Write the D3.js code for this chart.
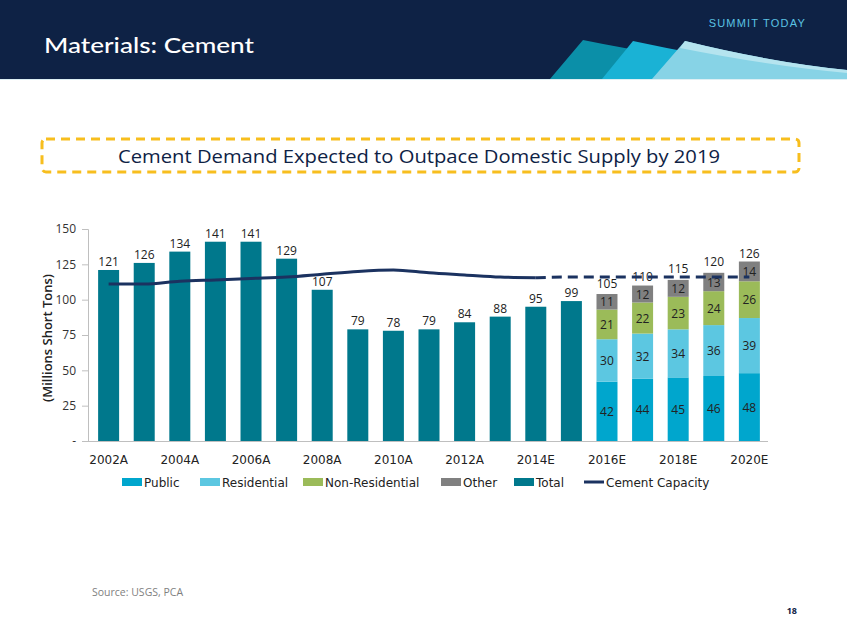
<!DOCTYPE html>
<html><head><meta charset="utf-8">
<script src="https://cdn.jsdelivr.net/npm/d3@7"></script>
<style>
html,body{margin:0;padding:0;background:#fff;}
svg{display:block;font-family:"Open Sans","Noto Sans",sans-serif;}
</style></head>
<body>
<svg id="c" width="847" height="635"></svg>
<script>
const categories = ["2002A","2003A","2004A","2005A","2006A","2007A","2008A","2009A","2010A","2011A","2012A","2013A","2014E","2015E","2016E","2017E","2018E","2019E","2020E"];
const totalValues = [121,126,134,141,141,129,107,79,78,79,84,88,95,99,null,null,null,null,null];
const publicValues = [null,null,null,null,null,null,null,null,null,null,null,null,null,null,42,44,45,46,48];
const residentialValues = [null,null,null,null,null,null,null,null,null,null,null,null,null,null,30,32,34,36,39];
const nonResidentialValues = [null,null,null,null,null,null,null,null,null,null,null,null,null,null,21,22,23,24,26];
const otherValues = [null,null,null,null,null,null,null,null,null,null,null,null,null,null,11,12,12,13,14];
const stackTotalLabels = [null,null,null,null,null,null,null,null,null,null,null,null,null,null,105,110,115,120,126];
const capacityValues = [111,111,113,114,115,116,118,120,121,119,117.5,116,115.5,116,116,116,116,116,116];
const yTicks = [0,25,50,75,100,125,150];
const xTickLabels = ["2002A","2004A","2006A","2008A","2010A","2012A","2014E","2016E","2018E","2020E"];

const colors = {Public:"#00A6CD", Residential:"#5CC7E1", "Non-Residential":"#9BBB59", Other:"#808080", Total:"#00788C", Capacity:"#1B3260"};
const svg = d3.select("#c");
const wideFont = "'DejaVu Sans', Verdana, sans-serif";

// Header
svg.append("rect").attr("x",0).attr("y",0).attr("width",847).attr("height",79).attr("fill","#0E2245");
svg.append("path").attr("d","M550,79 L583,40 Q700,64 847,76 L847,79 Z").attr("fill","#0B8FA8");
svg.append("path").attr("d","M602,79 L633,41 Q740,64 847,76 L847,79 Z").attr("fill","#1AB2D5");
svg.append("path").attr("d","M652,79 L685,41 Q770,62 847,70 L847,79 Z").attr("fill","#87D3E6");
svg.append("path").attr("d","M685,41 Q770,62 847,70 L847,73 Q770,66 680,48 Z").attr("fill","#B5E4EF");
svg.append("rect").attr("x",0).attr("y",79).attr("width",847).attr("height",1).attr("fill","#DDEFF4");
svg.append("text").attr("x",44).attr("y",53).attr("fill","#fff").attr("font-size",22).attr("font-weight",500)
  .attr("textLength",210).attr("lengthAdjust","spacingAndGlyphs")
  .attr("font-family","Lato, 'Open Sans', sans-serif").text("Materials: Cement");
svg.append("text").attr("x",806).attr("y",27).attr("text-anchor","end").attr("fill","#5BC3E3").attr("font-size",11)
  .attr("letter-spacing",1.2).attr("font-family","'Liberation Sans', Arial, sans-serif").text("SUMMIT TODAY");

// Dashed title box
svg.append("rect").attr("x",42).attr("y",139).attr("width",757).attr("height",33).attr("rx",4)
  .attr("fill","none").attr("stroke","#F7BE1E").attr("stroke-width",3).attr("stroke-dasharray","9,6");
svg.append("text").attr("x",419).attr("y",163).attr("text-anchor","middle").attr("fill","#0E2245")
  .attr("font-size",19).attr("font-weight",500).attr("textLength",602).attr("lengthAdjust","spacingAndGlyphs")
  .text("Cement Demand Expected to Outpace Domestic Supply by 2019");

// Scales
const x = d3.scaleBand().domain(categories).range([91,767]).paddingInner(0.41).paddingOuter(0.2);
const y = d3.scaleLinear().domain([0,150]).range([441,229]);

// Axes
const yAxis = d3.axisLeft(y).tickValues(yTicks).tickSize(6).tickPadding(6).tickFormat(d => d===0 ? "-" : d);
const gy = svg.append("g").attr("transform","translate(88,0)").call(yAxis);
gy.select(".domain").attr("stroke","#BFBFBF");
gy.selectAll(".tick line").attr("stroke","#BFBFBF");
gy.selectAll(".tick text").attr("fill","#333").attr("font-size",12).attr("font-family","'Open Sans',sans-serif");

const xAxis = d3.axisBottom(x).tickValues(xTickLabels).tickSize(0).tickPadding(14);
const gx = svg.append("g").attr("transform","translate(0,441)").call(xAxis);
gx.select(".domain").remove();
gx.selectAll(".tick text").attr("fill","#222").attr("font-size",12).attr("font-family",wideFont);
svg.append("line").attr("x1",88).attr("x2",768).attr("y1",441.5).attr("y2",441.5).attr("stroke","#BFBFBF");

// Y axis title
svg.append("text").attr("transform","translate(52,338) rotate(-90)").attr("text-anchor","middle")
  .attr("font-size",13).attr("font-weight",600).attr("fill","#222").text("(Millions Short Tons)");

// Total bars
const totals = categories.map((c,i)=>({c, v: totalValues[i]})).filter(d=>d.v!=null);
svg.append("g").selectAll("rect").data(totals).join("rect")
  .attr("x",d=>x(d.c)).attr("width",x.bandwidth()).attr("y",d=>y(d.v)).attr("height",d=>y(0)-y(d.v))
  .attr("fill",colors.Total);
svg.append("g").selectAll("text").data(totals).join("text")
  .attr("x",d=>x(d.c)+x.bandwidth()/2).attr("y",d=>y(d.v)-4).attr("text-anchor","middle")
  .attr("font-size",12).attr("fill","#222").text(d=>d.v);

// Stacked bars
const keys = ["Public","Residential","Non-Residential","Other"];
const stackRows = categories.map((c,i)=>({c, i, Public:publicValues[i], Residential:residentialValues[i], "Non-Residential":nonResidentialValues[i], Other:otherValues[i]}))
  .filter(d=>d.Public!=null);
const stacked = d3.stack().keys(keys)(stackRows);
const sg = svg.append("g");
stacked.forEach(layer=>{
  const g = sg.append("g");
  g.selectAll("rect").data(layer).join("rect")
    .attr("x",d=>x(d.data.c)).attr("width",x.bandwidth())
    .attr("y",d=>y(d[1])).attr("height",d=>y(d[0])-y(d[1]))
    .attr("fill",colors[layer.key]);
  g.selectAll("text").data(layer).join("text")
    .attr("x",d=>x(d.data.c)+x.bandwidth()/2).attr("y",d=>(y(d[0])+y(d[1]))/2+4.5)
    .attr("text-anchor","middle").attr("font-size",12).attr("fill","#222")
    .text(d=>d[1]-d[0]);
});
svg.append("g").selectAll("text").data(stackRows).join("text")
  .attr("x",d=>x(d.c)+x.bandwidth()/2).attr("y",d=>y(stackTotalLabels[d.i])-5).attr("text-anchor","middle")
  .attr("font-size",12).attr("fill","#222").text(d=>stackTotalLabels[d.i]);

// Capacity line
const cap = categories.map((c,i)=>({c,i,v:capacityValues[i]}));
const line = d3.line().x(d=>x(d.c)+x.bandwidth()/2).y(d=>y(d.v)).curve(d3.curveMonotoneX);
svg.append("path").datum(cap.filter(d=>d.i<=12)).attr("d",line).attr("fill","none")
  .attr("stroke",colors.Capacity).attr("stroke-width",3);
svg.append("path").datum(cap.filter(d=>d.i>=12)).attr("d",line).attr("fill","none")
  .attr("stroke",colors.Capacity).attr("stroke-width",3).attr("stroke-dasharray","10,6");

// Legend
const legendItems = [
  {name:"Public", type:"rect", x:122},
  {name:"Residential", type:"rect", x:200},
  {name:"Non-Residential", type:"rect", x:303},
  {name:"Other", type:"rect", x:441},
  {name:"Total", type:"rect", x:514},
  {name:"Cement Capacity", type:"line", x:584}
];
const lg = svg.append("g");
legendItems.forEach(it=>{
  const col = it.name==="Total" ? colors.Total : it.name==="Cement Capacity" ? colors.Capacity : colors[it.name];
  if(it.type==="rect") lg.append("rect").attr("x",it.x).attr("y",478).attr("width",20).attr("height",8).attr("fill",col);
  else lg.append("line").attr("x1",it.x).attr("x2",it.x+20).attr("y1",482).attr("y2",482).attr("stroke",col).attr("stroke-width",3);
  lg.append("text").attr("x",it.x+22).attr("y",486.5).attr("font-size",12).attr("font-family",wideFont)
    .attr("fill","#222").text(it.name);
});

// Footer
svg.append("text").attr("x",92).attr("y",596).attr("font-size",10.5).attr("fill","#7F7F7F").text("Source: USGS, PCA");
svg.append("text").attr("x",797).attr("y",614).attr("text-anchor","end").attr("font-size",9).attr("font-weight",700).attr("fill","#0E2245").text("18");
</script>
</body></html>
